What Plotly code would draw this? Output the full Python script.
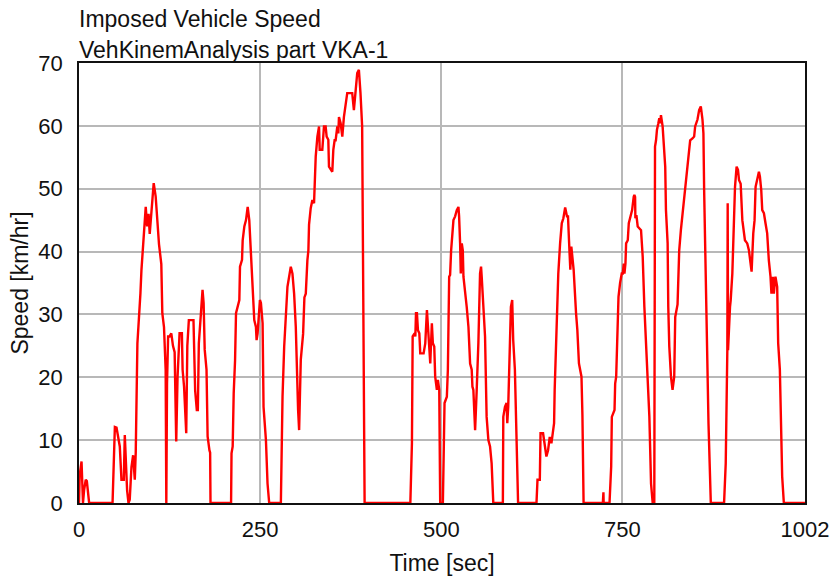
import plotly.graph_objects as go

# Imposed vehicle speed (breakpoints of the line)
time_sec = [
    0, 1, 3.5, 4.5, 5.5, 7, 9.3, 10.8, 12.5, 14,
    46.3, 48, 49.5, 51.8, 54, 56.3, 58.6, 61.8, 63.2, 65, 66.4, 68.3, 70, 72.4, 74.7, 77, 78.3,
    80.6, 82.5, 84.8, 86.2, 89.3, 92.1, 94, 96, 97.6, 99, 101, 103.1, 105.8, 108.1, 110.4,
    113.6, 115, 117.3, 119.6, 120.5,
    121.5, 123, 125, 127.4, 129.7, 132, 134.2, 136, 138.8, 142, 143, 145, 146, 148, 149.5,
    151.6, 158, 159, 160.3, 162.6, 164, 165.4, 168, 170.5, 172, 173.5, 176, 177.5, 180, 181, 181.5,
    209.9, 210.5, 212.1, 213.5, 215.4, 216.7, 221.3, 222.2, 225, 225.9, 228.2, 230.5, 232.8,
    235, 236, 238.3, 239.6, 241, 241.9, 244.2, 245.1, 246.5, 247.4, 249.7, 251.1, 253.4,
    254.7, 258, 260.2, 262.5,
    278.6, 279.5, 280.9, 283.2, 285.5, 287.7, 290, 292.3, 294.6, 296.9, 299.2, 300.1, 301.5,
    302.4, 303.8, 305.2, 306.1, 309.3, 311.1, 313, 313.8, 315.2, 316.6, 317.5, 319.8, 322.1,
    324.4, 326.7, 329, 331.3, 332.2, 335.8, 338.1, 340.4, 341.8, 344.1, 345, 347.3, 349.6,
    351, 352.8, 354.2, 356.5, 357.9, 358.8, 361.1, 363.4, 365.6, 367.9, 370.2, 374.8, 377.1,
    379.4, 381.7, 384, 386.3, 387.5, 388.5, 390.8, 391.5, 393.5, 394.2,
    457.3, 459.5, 460.5, 463.2, 464.2, 465.1, 466.4, 467.8, 469.7, 471, 475.6, 477.9, 480.2,
    482.5, 484.8, 487, 488.4, 490.3, 491.6, 493.9, 495.3, 497.2, 498.5, 502.2,
    504.5, 507.7, 509.1, 510.9, 512.2, 513.6, 515.5, 516.8, 519.1, 521.4, 523.7, 524.6, 526,
    526.9, 528.3, 529.7, 530.6, 532.9, 535.1, 537.5, 539.8, 542, 543, 544.3, 546.7, 548.9,
    551.2, 553.5, 554.9, 555.8, 558.1, 560.4, 562.6, 565, 567.3, 569.5, 571.8,
    585, 585.6, 587.9, 590.1, 591.1, 592.4, 593.3, 594.7, 596.1, 597.9, 599.3, 601.6, 604, 606,
    631.4, 632.8, 636, 637, 640.5, 642.9, 645.1, 647.4, 649.7, 652, 654.3, 655.7, 656.5,
    658.9, 661.5, 664, 666.3, 668.5, 671, 673.5, 674.9, 676.2, 678.1, 679.5, 680.8, 682.7,
    686, 687.8, 690, 692, 693.5, 694.8, 696.4,
    723, 723.3, 723.8, 724.1,
    732.2, 734.5, 735.4, 739.1, 740, 741.4, 742.7, 744.6, 746.8, 749.1, 750.5, 751.9, 752.8,
    754.2, 755.1, 757.4, 758.8, 760.6, 762, 763.4, 765.6, 766.5, 767.5, 767.9, 769.3, 771.1,
    775.7, 778, 780.3, 782.6, 784.9, 787.2, 789.5, 791.8, 794,
    795, 796.4, 797.7, 799.6, 800.9, 802.3, 803.2, 805.5, 807.8, 809.1, 810.1, 812.4, 813.3,
    814.7, 817, 819.2, 821.5, 822.9, 826.1, 828.4, 830.7, 833, 835.3, 837.6, 839, 840.8,
    843.5, 846.7, 849, 850.4, 851.7, 853.6, 855.9, 858.2, 860.5, 861.8, 862.8, 865.1, 867.4,
    868.8, 872,
    890.3, 892.6, 893.9, 894.8, 895.3, 895.8, 898.5, 899.4, 901.7, 904, 905.4, 907.6, 909.5,
    910.9, 913.2, 915.5, 917.8, 919.1, 922.3, 924.6, 926.9, 928.3, 930.6, 932.4, 933.8, 936.1,
    938.4, 939.8, 941.6, 943, 945.3, 947.5, 949.8, 952.1, 954.4, 955.7, 957.6, 959, 961.2,
    963.6, 965, 967.3, 968.2, 970.5, 972.8,
    1002,
]
speed_kmh = [
    0, 4.5, 6.6, 2, 0, 2, 3.7, 3.5, 1.5, 0,
    0, 6, 12.1, 12, 10.5, 9, 3.7, 3.7, 10.8, 6, 2, 0, 0.5, 5.7, 7.6, 3.7, 8,
    25.4, 28.6, 33.4, 37.1, 43.4, 47.1, 44, 46, 42.8, 45, 48.5, 50.9, 48.8, 44.6, 41.2,
    38, 30.2, 28, 21.2, 0,
    19, 26.5, 26.5, 27, 25, 24, 9.8, 20, 27, 27, 21.2, 18.5, 16.4, 11.1, 25,
    29.1, 29.1, 25.4, 17.9, 14.8, 14.8, 25.4, 30.7, 33.9, 31.8, 24.4, 21.2, 10.6, 8.4, 8, 0,
    0, 7.9, 9, 17.4, 22.7, 30.2, 32.3, 37.6, 38.7, 41.8, 44, 45, 47.1,
    45, 42.9, 37.6, 33.4, 32.3, 29.1, 28, 25.9, 27, 29.1, 32.3, 31.8, 28.6,
    15.3, 10, 3.1, 0,
    0, 7, 16.9, 24.9, 31.2, 34.4, 36, 37.6, 36.5, 33.3, 28, 22.8, 20.1,
    14.8, 11.6, 17.5, 22.8, 26.9, 32.7, 33.3, 35.9, 38.6, 40.2, 44.3, 46.9, 48.2,
    47.7, 55.1, 58.3, 59.9, 56.2, 56.2, 59.9, 59.9, 58.3, 57.8, 53.5, 53, 52.7,
    56.2, 57.7, 57.7, 59.9, 58.8, 61.4, 60.4, 58.3, 61.4, 63.6, 65.2, 65.2, 65.2,
    62.5, 65.2, 68.4, 68.9, 65.2, 65.2, 59.9, 49, 5, 0,
    0, 9.5, 26.5, 27, 26.5, 30.2, 30.2, 27.5, 27, 23.8, 23.8, 25.4, 30.7,
    25.4, 22.2, 28.6, 25.4, 24.9, 20.1, 18, 19.6, 18, 0, 0,
    15.9, 16.9, 21.2, 36, 36.3, 40.2, 42.9, 45, 45.6, 46.6, 47.1, 45.6, 41.3,
    36.5, 41.3, 40.2, 36, 33.9, 31.2, 28, 22.2, 21.2, 18.5, 18, 11.6, 18,
    25.4, 36.5, 37.6, 36, 31.2, 26.5, 13.7, 10, 9, 6.3, 0,
    0, 13.7, 15.3, 15.9, 12.7, 15.3, 20.1, 28.6, 31.2, 32.3, 25.9, 21.2, 10.5, 0,
    0, 3.7, 3.7, 11.1, 11.1, 9, 7.4, 8.4, 10.5, 9.5, 11.6, 12.7, 18,
    28.6, 36.5, 41.3, 44.5, 45.3, 47, 45.6, 45.6, 42, 37.1, 40.8, 39.5, 37.1,
    30.2, 27.5, 22.2, 21.2, 20.1, 14, 0,
    0, 1.7, 1.7, 0,
    0, 5.8, 13.7, 14.8, 19, 20.1, 25.9, 32.8, 35, 36.5, 36.5, 38.1, 36.5,
    38.1, 41.3, 41.8, 44.5, 45.3, 45.6, 46.6, 48.7, 49, 48.7, 45.3, 45.8, 44,
    43.4, 39.2, 31.2, 25.9, 20.1, 13.7, 3.1, 0, 0,
    56.7, 57.7, 59.4, 60.4, 61.2, 60.4, 61.7, 59.9, 56.1, 53.5, 46.6, 41.3, 31.2,
    24.9, 20.1, 18, 20.1, 29.6, 31.6, 40.2, 43.4, 46.1, 49.3, 50.8, 53, 55.1,
    57.7, 58, 58.3, 59.9, 60.4, 61, 62.5, 63.1, 61, 58.8, 49.8, 36, 20.6,
    12.7, 0,
    0, 6.3, 23.3, 24.3, 47.7, 24.3, 31.2, 32.2, 36.5, 43.4, 50.3, 53.5, 53,
    51.4, 50.8, 45, 43.4, 41.8, 41.3, 40.2, 38.1, 36.8, 42.9, 45, 50.3, 51.4,
    52.7, 51.9, 49.8, 46.6, 46.1, 44.5, 42.9, 38.6, 36, 33.3, 36, 33.3, 36,
    34.4, 25.4, 21.2, 14.3, 4.2, 0,
    0,
]

x_ticks = [0, 250, 500, 750, 1002]
y_ticks = [0, 10, 20, 30, 40, 50, 60, 70]

font = "Liberation Sans, Arial, sans-serif"
ink = "#111111"

fig = go.Figure()
fig.add_trace(go.Scatter(x=time_sec, y=speed_kmh, mode="lines",
                         line=dict(color="#ff0000", width=2.4), showlegend=False))

# Two-line title, left aligned with the plot frame
fig.add_annotation(text="Imposed Vehicle Speed", xref="paper", yref="paper",
                   x=0, y=1, xanchor="left", yanchor="middle", xshift=-2, yshift=44,
                   showarrow=False, font=dict(size=23, color=ink, family=font))
fig.add_annotation(text="VehKinemAnalysis part VKA-1", xref="paper", yref="paper",
                   x=0, y=1, xanchor="left", yanchor="middle", xshift=-2, yshift=13,
                   showarrow=False, font=dict(size=23, color=ink, family=font))

fig.update_xaxes(range=[0, 1002], tickvals=x_ticks, ticks="outside", ticklen=6,
                 tickcolor="rgba(0,0,0,0)", showgrid=True, gridcolor="#b8b8b8", gridwidth=2,
                 showline=True, mirror=True, linecolor=ink, linewidth=1.5,
                 zeroline=False, layer="below traces",
                 tickfont=dict(size=22, color=ink, family=font),
                 title=dict(text="Time [sec]", standoff=14,
                            font=dict(size=23, color=ink, family=font)))
fig.update_yaxes(range=[0, 70], tickvals=y_ticks, ticks="outside", ticklen=10,
                 tickcolor="rgba(0,0,0,0)", showgrid=True, gridcolor="#b8b8b8", gridwidth=2,
                 showline=True, mirror=True, linecolor=ink, linewidth=1.5,
                 zeroline=False, layer="below traces",
                 tickfont=dict(size=22, color=ink, family=font),
                 title=dict(text="Speed [km/hr]", standoff=3,
                            font=dict(size=23, color=ink, family=font)))

fig.update_layout(width=836, height=578,
                  margin=dict(l=79, r=31, t=63, b=75, autoexpand=False),
                  paper_bgcolor="white", plot_bgcolor="white",
                  font=dict(family=font, color=ink))

# drop the default page margin so the figure sits at the window's top-left corner
fig.write_html("out.html", config={"displayModeBar": False},
               post_script="document.body.style.margin='0';")
